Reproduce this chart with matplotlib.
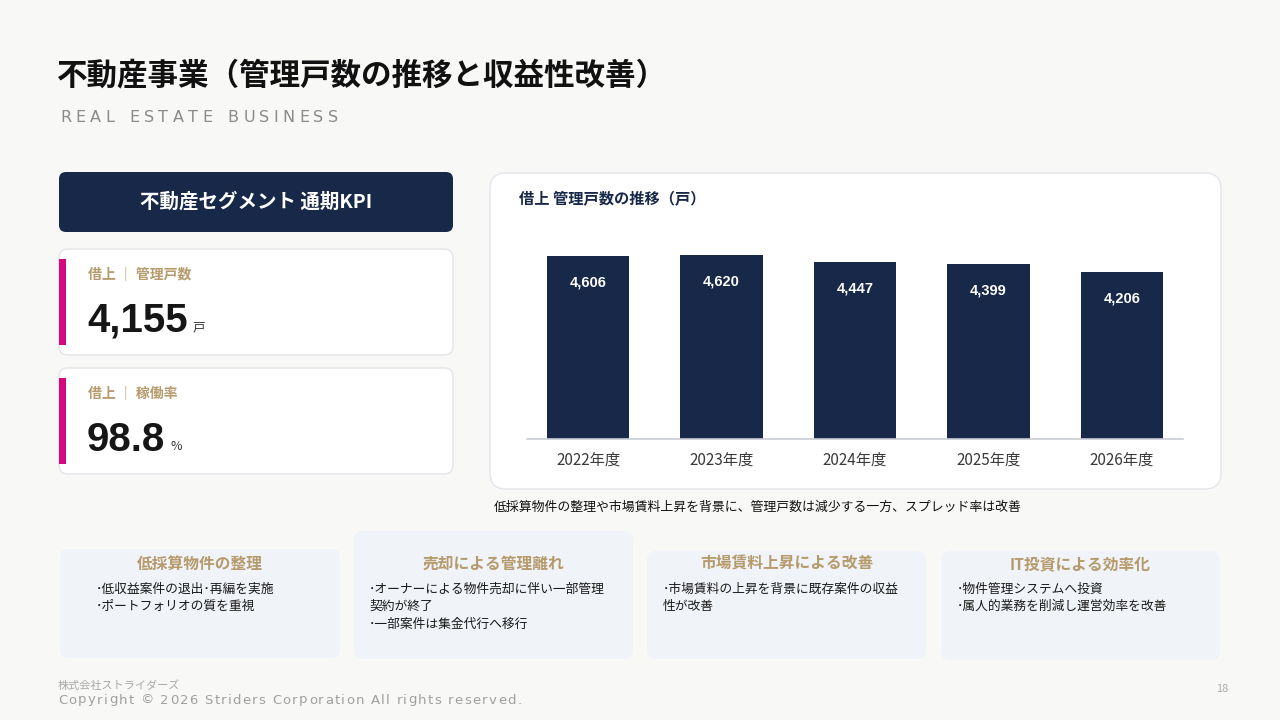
import matplotlib
matplotlib.use("Agg")
import matplotlib.pyplot as plt
from matplotlib.patches import FancyBboxPatch, Rectangle

plt.rcParams['font.family'] = ['Noto Sans CJK JP', 'DejaVu Sans']

# Data
years = ['2022年度', '2023年度', '2024年度', '2025年度', '2026年度']
units = [4606, 4620, 4447, 4399, 4206]

kpi_labels = ['借上 ｜ 管理戸数', '借上 ｜ 稼働率']
kpi_values = ['4,155', '98.8']
kpi_units = ['戸', '%']

card_titles = ['低採算物件の整理', '売却による管理離れ', '市場賃料上昇による改善', 'IT投資による効率化']
card_lines = [
    ['･低収益案件の退出･再編を実施', '･ポートフォリオの質を重視'],
    ['･オーナーによる物件売却に伴い一部管理', '契約が終了', '･一部案件は集金代行へ移行'],
    ['･市場賃料の上昇を背景に既存案件の収益', '性が改善'],
    ['･物件管理システムへ投資', '･属人的業務を削減し運営効率を改善'],
]

# Colors
BG = '#f8f8f7'
NAVY = '#172848'
GOLD = '#b59a6c'
PINK = '#d6087f'
CARD = '#f0f3f8'
EDGE = '#e3e5e8'

W, H = 1280, 720
fig = plt.figure(figsize=(12.8, 7.2), dpi=100, facecolor=BG)

# background canvas in pixel coordinates
bg = fig.add_axes([0, 0, 1, 1])
bg.set_xlim(0, W)
bg.set_ylim(H, 0)
bg.axis('off')
bg.set_facecolor(BG)


def box(x0, y0, x1, y1, fc, ec='none', r=8, lw=1.0, z=1):
    p = FancyBboxPatch((x0 + r, y0 + r), (x1 - x0) - 2 * r, (y1 - y0) - 2 * r,
                       boxstyle='round,pad=%d' % r, fc=fc, ec=ec, lw=lw, zorder=z)
    bg.add_patch(p)


def tracked(x, y, s, track, space=6, **kw):
    r = fig.canvas.get_renderer()
    for ch in s:
        if ch == ' ':
            x += space + track
            continue
        t = bg.text(x, y, ch, **kw)
        x += t.get_window_extent(r).width + track


# Title
bg.text(57, 75, '不動産事業（管理戸数の推移と収益性改善）', fontsize=22, fontweight='bold',
        color='#111111', va='center', ha='left')
tracked(60, 118, 'REAL ESTATE BUSINESS', 4.3, space=7, fontsize=11.5, color='#8a8a8a',
        va='center', ha='left', family='DejaVu Sans')

# KPI header
box(59, 172, 453, 232, NAVY, r=7)
bg.text(256, 202, '不動産セグメント 通期KPI', fontsize=14, fontweight='bold', color='white',
        ha='center', va='center', zorder=3)

# KPI cards
for i in range(2):
    y0 = 249 + i * 119
    box(59, y0, 453, y0 + 106, 'white', ec=EDGE, r=9, lw=1.0)
    bg.add_patch(Rectangle((59, y0 + 10), 7, 86, fc=PINK, ec='none', zorder=3))
    bg.text(88, y0 + 25, kpi_labels[i], fontsize=10, fontweight='bold', color=GOLD,
            ha='left', va='center', zorder=3)
    t = bg.text(87, y0 + 83, kpi_values[i], fontsize=29, fontweight='bold', color='#161616',
                ha='left', va='baseline', family='Liberation Sans', zorder=3)
    ext = t.get_window_extent(fig.canvas.get_renderer())
    bg.text(87 + ext.width + 5, y0 + 82, kpi_units[i], fontsize=9, color='#333333',
            ha='left', va='baseline', zorder=3)

# Chart panel
box(490, 173, 1221, 489, 'white', ec=EDGE, r=16, lw=1.0)
bg.text(519, 199, '借上 管理戸数の推移（戸）', fontsize=11, fontweight='bold', color=NAVY,
        ha='left', va='center', zorder=3)

ax = fig.add_axes([527 / W, (H - 439) / H, (1183 - 527) / W, 218.5 / H])
ax.patch.set_alpha(0)
xs = list(range(len(years)))
bars = ax.bar(xs, units, width=0.62, color=NAVY, zorder=2)
ax.set_xlim(-0.457, 4.457)
ax.set_ylim(0, 5500)
for s in ['top', 'right', 'left']:
    ax.spines[s].set_visible(False)
ax.spines['bottom'].set_color('#c9ced6')
ax.spines['bottom'].set_linewidth(1.2)
ax.set_yticks([])
ax.set_xticks(xs)
ax.set_xticklabels(years, fontsize=11, color='#3a3a3a')
ax.tick_params(axis='x', length=0, pad=9)
for x, v in zip(xs, units):
    ax.annotate(f'{v:,}', (x, v), xytext=(0, -19), textcoords='offset points',
                ha='center', va='center', color='white', fontsize=10.5,
                fontweight='bold', family='Liberation Sans')

bg.text(494, 507, '低採算物件の整理や市場賃料上昇を背景に、管理戸数は減少する一方、スプレッド率は改善',
        fontsize=9.3, color='#111111', ha='left', va='center')

# Bottom cards
cards = [(60, 549, 340, 658, 96), (354, 531, 633, 659, 369),
         (647, 551, 926, 659, 663), (941, 551, 1220, 660, 957)]
for (x0, y0, x1, y1, tx), title, lines in zip(cards, card_titles, card_lines):
    box(x0, y0, x1, y1, CARD, r=9)
    bg.text((x0 + x1) / 2, 564, title, fontsize=11.3, fontweight='bold', color=GOLD,
            ha='center', va='center', zorder=3)
    for j, ln in enumerate(lines):
        bg.text(tx, 589 + j * 17.5, ln, fontsize=9.2, color='#1a1a1a', ha='left',
                va='center', zorder=3)

# Footer
bg.text(58, 686, '株式会社ストライダーズ', fontsize=8, color='#a8a8a8', ha='left', va='center')
tracked(58, 700, 'Copyright © 2026 Striders Corporation All rights reserved.', 1.3, space=4,
        fontsize=9.5, color='#a0a0a0', ha='left', va='center', family='DejaVu Sans')
bg.text(1228, 689, '18', fontsize=8, color='#aaaaaa', ha='right', va='center')

fig.savefig('out.png', dpi=100, facecolor=BG)
